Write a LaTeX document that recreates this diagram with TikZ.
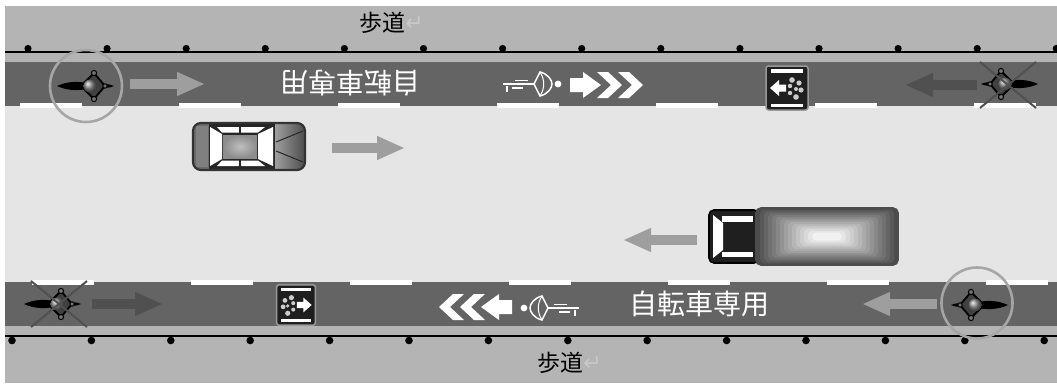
\documentclass[tikz,border=0pt]{standalone}
\usepackage{fontspec}
\newfontfamily\cjkfont{Noto Sans CJK JP}
\newfontfamily\symfont{DejaVu Sans}
\usetikzlibrary{arrows.meta}

\definecolor{walk}{HTML}{B4B4B4}
\definecolor{lane}{HTML}{646464}
\definecolor{road}{HTML}{E5E5E5}
\definecolor{arrowlight}{HTML}{9E9E9E}
\definecolor{arrowdark}{HTML}{505050}
\definecolor{ring}{HTML}{A6A6A6}
\definecolor{retmark}{HTML}{C8C8C8}

\tikzset{
  flow/.style={line width=10.5pt, -{Triangle[length=28pt,width=22pt]}},
  lanemark/.style={fill=white},
  post/.style={fill=black},
  edge line/.style={draw=black, line width=1.4pt},
  walklabel/.style={font=\cjkfont\fontsize{23}{23}\selectfont, inner sep=0pt, text=black},
  lanelabel/.style={font=\cjkfont\fontsize{28}{28}\selectfont, inner sep=0pt, text=white},
  retlabel/.style={font=\symfont\fontsize{22}{22}\selectfont, inner sep=0pt, text=retmark},
  % top view of a bicycle, front ball at the origin, rear tail towards -x
  bikeicon/.pic={
    \fill[black] (-33,0) .. controls (-22,-5) and (-12,-4.5) .. (-4,-3.2)
      -- (-4,3.2) .. controls (-12,4.5) and (-22,5) .. (-33,0) -- cycle;
    \fill[black] (6,-2.6) -- (20,-1.4) -- (24,0) -- (20,1.4) -- (6,2.6) -- cycle;
    \filldraw[fill=black!75, draw=black, line width=1.8pt]
      (-9,0) -- (4,-13) -- (15,0) -- (4,13) -- cycle;
    \filldraw[fill=black!55, draw=black, line width=1pt] (4,-13) circle (2.6);
    \filldraw[fill=black!55, draw=black, line width=1pt] (4,13) circle (2.6);
    \filldraw[fill=black!55, draw=black, line width=1pt] (15,0) circle (2.2);
    \shade[ball color=black!45] (0,0) circle (6.5);
  },
  % white cyclist pictogram painted on the lane, heading +x
  riderpic/.pic={
    \draw[white, line width=1.4pt] (0,0) -- (31,0);
    \draw[white, line width=1.4pt] (12,-3.5) -- (25,-3.5);
    \draw[white, line width=1.4pt] (9,4) -- (20,4);
    \draw[white, line width=1.4pt] (4,2) -- (4,8);
    \draw[white, line width=1.5pt, fill=lane] (31,0) -- (37,-12)
      .. controls (45,-10) and (49,-4) .. (49,0)
      .. controls (49,4) and (45,10) .. (37,12) -- cycle;
    \draw[white, line width=1pt] (37,-12) .. controls (42,-4) and (42,4) .. (37,12);
    \fill[white] (55,0) circle (3.4);
  },
  % painted arrow followed by two chevrons, heading +x
  chevrons/.pic={
    \fill[white] (0,-7) -- (13,-7) -- (13,-13) -- (31,0) -- (13,13) -- (13,7) -- (0,7) -- cycle;
    \fill[white] (27,-13) -- (38,-13) -- (52,0) -- (38,13) -- (27,13) -- (41,0) -- cycle;
    \fill[white] (48,-13) -- (59,-13) -- (73,0) -- (59,13) -- (48,13) -- (62,0) -- cycle;
  },
  % bicycle lane sign, arrow pointing -x
  lanesign/.pic={
    \filldraw[fill=black!88, draw=black!40, line width=1.5pt, rounded corners=2.5pt]
      (-21,-22) rectangle (21,22);
    \fill[white] (-16,-19) rectangle (16,-15.5);
    \fill[white] (-16,15.5) rectangle (16,19);
    \fill[white] (-17,0) -- (-8,-8) -- (-8,-3.5) -- (-1,-3.5) -- (-1,3.5) -- (-8,3.5) -- (-8,8) -- cycle;
    \fill[black!20] (5,-8) circle (2.8) (12,-5) circle (2.6) (14,2) circle (2.6)
      (9,9) circle (2.8) (3,5) circle (2.2) (3,-2) circle (2.2) (9,1) circle (2);
  },
}

\begin{document}
\begin{tikzpicture}[x=1pt, y=-1pt]
\useasboundingbox (0,0) rectangle (1057,383);
\fill[white] (0,0) rectangle (1057,383);

% ground: sidewalks, lanes and carriageway
\fill[walk] (5,6) rectangle (1057,383);
\fill[lane] (5,62) rectangle (1057,106);
\fill[road] (5,106) rectangle (1057,282);
\fill[lane] (5,282) rectangle (1057,326);

% lane edge markings
\foreach \k in {0,...,6} {
  \fill[lanemark] ({20+159*\k},103) rectangle ({82+159*\k},108);
  \fill[lanemark] ({32+159*\k},279.5) rectangle ({94+159*\k},285);
}

% kerb lines with posts
\draw[edge line] (5,52) -- (1057,52);
\draw[edge line] (5,336) -- (1057,336);
\foreach \k in {0,...,13} {
  \fill[post] ({28+79.1*\k},48.5) circle (3.6);
  \fill[post] ({12+79.4*\k},340.5) circle (3.8);
}

% sidewalk labels
\node[walklabel] (walkN) at (382,23) {歩道};
\node[retlabel, anchor=west] (retN) at ([xshift=0pt,yshift=-1pt]walkN.east) {↵};
\node[walklabel] (walkS) at (560,363) {歩道};
\node[retlabel, anchor=west] (retS) at ([xshift=0pt,yshift=-1pt]walkS.east) {↵};

% lane labels
\node[lanelabel, rotate=180] (laneN) at (350,83) {自転車専用};
\node[lanelabel] (laneS) at (699,304) {自転車専用};

% cyclist pictograms and chevrons
\pic at (503,84) {riderpic};
\pic at (570,85) {chevrons};
\pic[xscale=-1] at (579,308) {riderpic};
\pic[xscale=-1] at (512,307) {chevrons};

% lane signs
\pic at (787,88) {lanesign};
\pic[xscale=-1, scale=0.92] at (296,305) {lanesign};

% direction arrows
\coordinate (a1s) at (130,84);  \coordinate (a1e) at (205,84);
\coordinate (a2s) at (977,85);  \coordinate (a2e) at (905,85);
\coordinate (a3s) at (332,148); \coordinate (a3e) at (405,148);
\coordinate (a4s) at (697,240); \coordinate (a4e) at (623,240);
\coordinate (a5s) at (92,304);  \coordinate (a5e) at (163,304);
\coordinate (a6s) at (937,304); \coordinate (a6e) at (862,304);
\draw[flow, arrowlight] (a1s) -- (a1e);
\draw[flow, arrowdark]  (a2s) -- (a2e);
\draw[flow, arrowlight] (a3s) -- (a3e);
\draw[flow, arrowlight] (a4s) -- (a4e);
\draw[flow, arrowdark]  (a5s) -- (a5e);
\draw[flow, arrowlight] (a6s) -- (a6e);

% bicycles: circled = correct direction, crossed = wrong direction
\pic at (90,86) {bikeicon};
\draw[ring, line width=2.6pt] (86,86) circle (36);
\pic[xscale=-1] at (975,305) {bikeicon};
\draw[ring, line width=2.6pt] (977,303) circle (35.5);
\pic[xscale=-1] at (1005,84) {bikeicon};
\draw[arrowdark, line width=2pt] (980,62) -- (1036,108) (1036,62) -- (980,108);
\pic at (57,304) {bikeicon};
\draw[arrowdark, line width=2pt] (31,281) -- (87,327) (87,281) -- (31,327);

% car heading +x
\begin{scope}[shift={(193,123)}]
  \begin{scope}
    \clip[rounded corners=8pt] (0,0) rectangle (112,47);
    \fill[black!58] (0,0) rectangle (112,47);
    \fill[black!50] (3,3) rectangle (15,44);
    \fill[black!85] (16,1) rectangle (82,46);
    \shade[left color=black!38, right color=black!70] (82,0) rectangle (112,47);
    \fill[white] (17,4) -- (29,11) -- (29,36) -- (17,43) -- cycle;
    \fill[white] (65,11) -- (80,4) -- (80,43) -- (65,36) -- cycle;
    \fill[white] (24,4) -- (72,4) -- (65,9.5) -- (29,9.5) -- cycle;
    \fill[white] (24,43) -- (72,43) -- (65,37.5) -- (29,37.5) -- cycle;
    \draw[black!85, line width=1.5pt] (47,3) -- (47,10) (47,37) -- (47,44);
    \shade[inner color=black!25, outer color=black!45] (30,12) rectangle (64,35);
    \draw[black!85, line width=1pt] (83,19) -- (110,8) (83,28) -- (110,39);
  \end{scope}
  \draw[black!80, line width=2.2pt, rounded corners=8pt] (0,0) rectangle (112,47);
\end{scope}

% truck heading -x
\begin{scope}[shift={(709,208)}]
  \filldraw[fill=black!88, draw=black, line width=1.6pt, rounded corners=5pt] (0,2) rectangle (50,55);
  \fill[white] (4,7) -- (14,15) -- (14,42) -- (4,50) -- cycle;
  \fill[white] (13,8) rectangle (44,13.5);
  \fill[white] (13,43.5) rectangle (44,49);
  \foreach \i in {0,...,14} {
    \pgfmathsetmacro\k{70-4.6*\i}
    \fill[black!\k, rounded corners=4pt] ({47+4*\i},{0+1.75*\i}) rectangle ({189-4*\i},{57-1.75*\i});
  }
  \draw[black!70, line width=1.6pt, rounded corners=5pt] (47,0) rectangle (189,57);
\end{scope}
\end{tikzpicture}
\end{document}
